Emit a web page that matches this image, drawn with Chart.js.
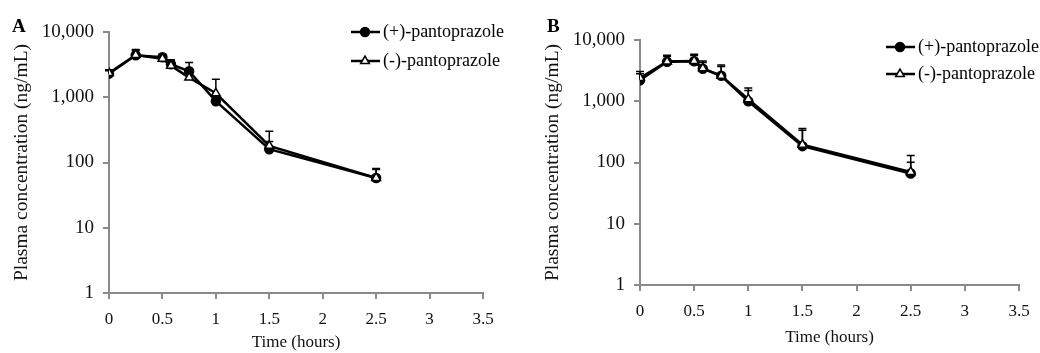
<!DOCTYPE html>
<html lang="en">
<head>
    <meta charset="UTF-8">
    <title>Plasma concentration of pantoprazole enantiomers</title>
    <script src="https://cdn.jsdelivr.net/npm/chart.js"></script>
    <style>
        body { margin: 0; background: #fff; }
        .panel { position: absolute; top: 0; width: 520px; height: 353px; }
    </style>
</head>
<body>
    <div class="panel" style="left:0"><canvas id="chartA"></canvas></div>
    <div class="panel" style="left:520px"><canvas id="chartB"></canvas></div>
    <script>
        // sampling times (hours)
        const times = [0, 0.25, 0.5, 0.58, 0.75, 1, 1.5, 2.5];
        const xTicks = [0, 0.5, 1, 1.5, 2, 2.5, 3, 3.5];
        const yTicks = [1, 10, 100, 1000, 10000];
        const seriesNames = ['(+)-pantoprazole', '(-)-pantoprazole'];

        // panel A (ng/mL), mean and upper SD
        const plusA = [2300, 4400, 4100, 3200, 2500, 870, 160, 58];
        const plusErrA = [250, 800, 450, 500, 900, 150, 50, 20];
        const minusA = [2350, 4450, 3900, 3050, 2000, 1150, 180, 58];
        const minusErrA = [300, 950, 550, 700, 700, 730, 120, 23];

        // panel B
        const plusB = [2200, 4400, 4500, 3400, 2600, 1000, 185, 66];
        const plusErrB = [600, 1000, 1100, 900, 1100, 500, 150, 35];
        const minusB = [2400, 4450, 4550, 3450, 2600, 1080, 195, 70];
        const minusErrB = [650, 1200, 1300, 1100, 1300, 570, 165, 60];

        const serif = 'Liberation Serif';
        const axisGray = '#8a8a8a';

        const errorBars = {
            id: 'errorBars',
            beforeDatasetsDraw(chart) {
                const ctx = chart.ctx, y = chart.scales.y, x = chart.scales.x;
                ctx.save();
                ctx.strokeStyle = '#000';
                ctx.lineWidth = 1.5;
                chart.data.datasets.forEach(ds => {
                    ds.data.forEach((p, i) => {
                        const px = x.getPixelForValue(p.x);
                        const y0 = y.getPixelForValue(p.y);
                        const y1 = y.getPixelForValue(p.y + ds.err[i]);
                        ctx.beginPath();
                        ctx.moveTo(px, y0);
                        ctx.lineTo(px, y1);
                        ctx.moveTo(px - 4, y1);
                        ctx.lineTo(px + 4, y1);
                        ctx.stroke();
                    });
                });
                ctx.restore();
            }
        };

        const panelExtras = {
            id: 'panelExtras',
            afterDraw(chart, args, opts) {
                const ctx = chart.ctx;
                ctx.save();
                ctx.fillStyle = '#000';
                ctx.textBaseline = 'middle';
                ctx.font = 'bold 19px "' + serif + '"';
                ctx.fillText(opts.letter, opts.letterX, opts.letterY);
                ctx.font = '18px "' + serif + '"';
                chart.data.datasets.forEach((ds, i) => {
                    const ly = opts.legY + i * opts.legGap;
                    ctx.strokeStyle = '#000';
                    ctx.lineWidth = 2.5;
                    ctx.beginPath();
                    ctx.moveTo(opts.legX, ly);
                    ctx.lineTo(opts.legX + 29, ly);
                    ctx.stroke();
                    ctx.fillStyle = ds.pointBackgroundColor;
                    ctx.lineWidth = 1.5;
                    Chart.helpers.drawPoint(ctx, { pointStyle: ds.pointStyle, radius: ds.pointRadius, rotation: 0, borderWidth: 1.5 }, opts.legX + 14, ly);
                    ctx.fillStyle = '#000';
                    ctx.fillText(ds.label, opts.legX + 32, ly);
                });
                ctx.restore();
            }
        };

        function makeChart(id, plus, plusErr, minus, minusErr, lay) {
            const pts = arr => arr.map((v, i) => ({ x: times[i], y: v }));
            return new Chart(document.getElementById(id), {
                type: 'line',
                data: {
                    datasets: [{
                        label: seriesNames[0],
                        data: pts(plus),
                        err: plusErr,
                        order: 1,
                        borderColor: '#000',
                        borderWidth: 2.5,
                        pointStyle: 'circle',
                        pointRadius: 4.5,
                        pointBackgroundColor: '#000',
                        pointBorderColor: '#000',
                        pointBorderWidth: 1.5
                    }, {
                        label: seriesNames[1],
                        data: pts(minus),
                        err: minusErr,
                        order: 0,
                        borderColor: '#000',
                        borderWidth: 2.5,
                        pointStyle: 'triangle',
                        pointRadius: 5,
                        pointBackgroundColor: '#fff',
                        pointBorderColor: '#000',
                        pointBorderWidth: 1.5
                    }]
                },
                options: {
                    responsive: true,
                    maintainAspectRatio: false,
                    animation: false,
                    layout: { padding: { left: 0, top: lay.top, right: lay.right, bottom: 0 } },
                    plugins: {
                        legend: { display: false },
                        tooltip: { enabled: false },
                        panelExtras: lay.extras
                    },
                    scales: {
                        x: {
                            type: 'linear',
                            min: 0,
                            max: 3.5,
                            afterBuildTicks: s => { s.ticks = xTicks.map(v => ({ value: v })); },
                            afterFit: s => { s.height = 353 - lay.bottom; },
                            border: { color: axisGray, width: 2 },
                            grid: { drawOnChartArea: false, color: axisGray, lineWidth: 2, tickLength: 6 },
                            ticks: { color: '#111', padding: 10, maxRotation: 0, font: { family: serif, size: 17 }, callback: v => String(v) },
                            title: { display: true, text: 'Time (hours)', color: '#111', padding: { top: 0, bottom: lay.xTitlePad }, font: { family: serif, size: 17 } }
                        },
                        y: {
                            type: 'logarithmic',
                            min: 1,
                            max: 10000,
                            afterBuildTicks: s => { s.ticks = yTicks.map(v => ({ value: v })); },
                            afterFit: s => { s.width = lay.left; },
                            border: { color: axisGray, width: 2 },
                            grid: { drawOnChartArea: false, color: axisGray, lineWidth: 2, tickLength: 6 },
                            ticks: { color: '#111', padding: 9, font: { family: serif, size: 19 }, callback: v => v.toLocaleString('en-US') },
                            title: { display: true, text: 'Plasma concentration (ng/mL)', color: '#111', padding: { top: lay.yTitlePad, bottom: 0 }, font: { family: serif, size: 19.5 } }
                        }
                    }
                },
                plugins: [errorBars, panelExtras]
            });
        }

        makeChart('chartA', plusA, plusErrA, minusA, minusErrA, {
            left: 109, top: 32, right: 37, bottom: 293, xTitlePad: 0, yTitlePad: 10,
            extras: { letter: 'A', letterX: 12, letterY: 27, legX: 351, legY: 32, legGap: 29 }
        });
        makeChart('chartB', plusB, plusErrB, minusB, minusErrB, {
            left: 120, top: 40, right: 21, bottom: 285, xTitlePad: 5, yTitlePad: 21,
            extras: { letter: 'B', letterX: 27, letterY: 27, legX: 366, legY: 47, legGap: 27 }
        });
    </script>
</body>
</html>
